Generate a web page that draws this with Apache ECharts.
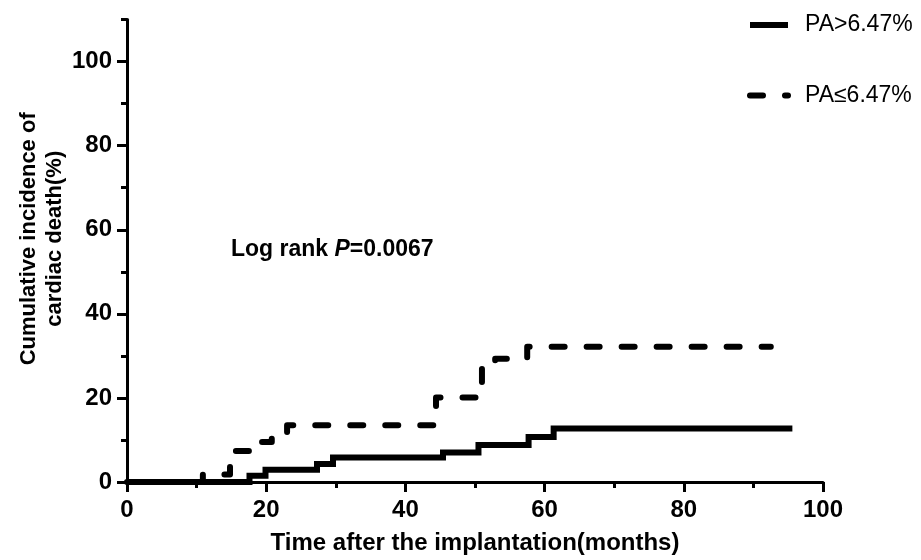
<!DOCTYPE html>
<html>
<head>
<meta charset="utf-8">
<script src="https://cdn.jsdelivr.net/npm/echarts@6/dist/echarts.min.js"></script>
<style>html,body{margin:0;padding:0;background:#fff;}#c{width:921px;height:560px;}</style>
</head>
<body>
<div id="c"></div>
<script>
// Data (months, cumulative incidence %)
const seriesNames = ['PA>6.47%', 'PA≤6.47%'];
const highTimes = [0, 17.6, 19.9, 27.3, 29.6, 45.4, 50.5, 57.7, 61.3, 95.6];
const highValues = [0, 1.5, 2.9, 4.3, 5.8, 7.0, 8.8, 10.7, 12.7, 12.7];
const lowTimes = [0, 10.9, 14.8, 15.4, 18.2, 20.8, 23.0, 44.4, 51.0, 52.9, 57.5, 92.5];
const lowValues = [0, 1.8, 4.6, 7.4, 9.5, 10.5, 13.5, 20.1, 27.3, 29.3, 32.2, 32.2];
const xMajorTicks = [0, 20, 40, 60, 80, 100];
const yMajorTicks = [0, 20, 40, 60, 80, 100];
const yMinorTicks = [10, 30, 50, 70, 90, 110];
const xTitle = 'Time after the implantation(months)';
const yTitle = 'Cumulative incidence of\ncardiac death(%)';
const annotation = { pre: 'Log rank ', p: 'P', post: '=0.0067' };

const FONT = 'Liberation Sans, Arial, sans-serif';
const pair = (xs, ys) => xs.map((x, i) => [x, ys[i]]);

const chart = echarts.init(document.getElementById('c'), null, { renderer: 'canvas' });
chart.setOption({
  animation: false,
  backgroundColor: '#fff',
  title: {
    text: '{a|' + annotation.pre + '}{b|' + annotation.p + '}{a|' + annotation.post + '}',
    left: 231, top: 238, padding: 0,
    textStyle: {
      rich: {
        a: { fontFamily: FONT, fontWeight: 'bold', fontSize: 23, color: '#000' },
        b: { fontFamily: FONT, fontWeight: 'bold', fontStyle: 'italic', fontSize: 23, color: '#000' }
      }
    }
  },
  legend: {
    orient: 'vertical',
    left: 747, top: 12,
    itemWidth: 38, itemHeight: 6, itemGap: 44.5,
    padding: 0,
    data: seriesNames,
    lineStyle: { width: 6 },
    itemStyle: { color: 'rgba(0,0,0,0)', borderWidth: 0, opacity: 0 },
    textStyle: { fontFamily: FONT, fontSize: 23, color: '#000', lineHeight: 26, padding: [0, 0, 0, 12] }
  },
  grid: { left: 127, right: 98, top: 19.6, bottom: 77, containLabel: false },
  xAxis: {
    type: 'value', min: 0, max: 100, interval: 20,
    name: xTitle, nameLocation: 'middle', nameGap: 49, nameMoveOverlap: false,
    nameTextStyle: { fontFamily: FONT, fontWeight: 'bold', fontSize: 24, color: '#000' },
    axisLine: { lineStyle: { color: '#000', width: 3 } },
    axisTick: { length: 10, lineStyle: { color: '#000', width: 3 } },
    minorTick: { show: true, splitNumber: 2, length: 6, lineStyle: { color: '#000', width: 3 } },
    axisLabel: { margin: 16, fontFamily: FONT, fontWeight: 'bold', fontSize: 24, color: '#000' },
    splitLine: { show: false }
  },
  yAxis: [{
    type: 'value', min: 0, max: 110, interval: 10, position: 'left',
    name: yTitle, nameLocation: 'middle', nameGap: 59, nameRotate: 90, nameMoveOverlap: false,
    nameTextStyle: { fontFamily: FONT, fontWeight: 'bold', fontSize: 22, lineHeight: 26, color: '#000', align: 'center', padding: [0, 0, 0, 24] },
    axisLine: { lineStyle: { color: '#000', width: 3 } },
    axisTick: { length: 10, customValues: yMajorTicks, lineStyle: { color: '#000', width: 3 } },
    axisLabel: { margin: 15, customValues: yMajorTicks, fontFamily: FONT, fontWeight: 'bold', fontSize: 24, color: '#000' },
    splitLine: { show: false }
  }, {
    type: 'value', min: 0, max: 110, interval: 10, position: 'left', offset: 0,
    axisLine: { show: false },
    axisTick: { show: true, length: 6, customValues: yMinorTicks, lineStyle: { color: '#000', width: 3 } },
    axisLabel: { show: false },
    splitLine: { show: false }
  }],
  series: [{
    name: seriesNames[0], type: 'line', step: 'end', symbol: 'none',
    data: pair(highTimes, highValues),
    lineStyle: { color: '#000', width: 6, cap: 'butt', join: 'miter' },
    itemStyle: { color: '#000' }, z: 3
  }, {
    name: seriesNames[1], type: 'line', step: 'end', symbol: 'none',
    data: pair(lowTimes, lowValues),
    lineStyle: { color: '#000', width: 6, type: [13, 22], cap: 'round', join: 'round' },
    itemStyle: { color: '#000' }, z: 2
  }]
});
</script>
</body>
</html>
